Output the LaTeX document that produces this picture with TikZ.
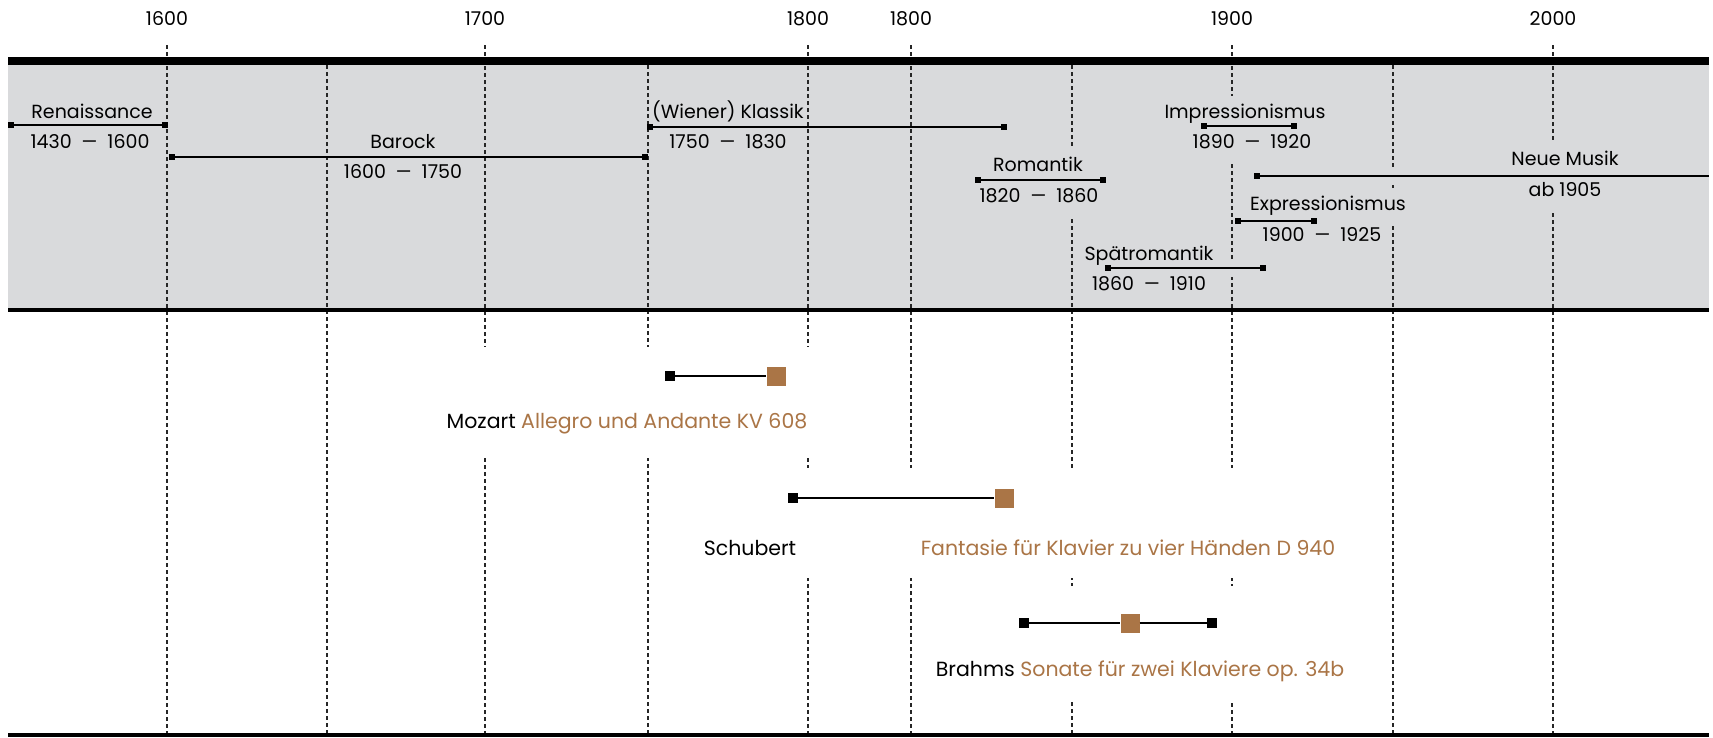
\documentclass[tikz,border=0pt]{standalone}
\usepackage{fontspec}
\setmainfont{Poppins}
\usetikzlibrary{positioning}
\definecolor{bandgray}{RGB}{217,218,220}
\definecolor{opus}{RGB}{170,117,70}
\newcommand{\eradates}[2]{#1\hspace{0.5em}\scalebox{1.3}[1]{--}\hspace{0.5em}#2}
\tikzset{
every node/.style={font=\fontsize{19}{22}\selectfont}, % one size for the band texts
yearlbl/.style={inner sep=0pt},
gridline/.style={dash pattern=on 4pt off 3pt, line width=1.1pt, black!85},
era/.style={fill=bandgray, inner xsep=1pt, inner ysep=9pt, text height=14pt, text depth=5pt},
eraline/.style={line width=1.3pt},
halo/.style={line width=17pt, bandgray},
endmark/.style={fill=black, minimum size=6pt, inner sep=0pt},
lifeline/.style={line width=2.4pt},
birth/.style={fill=black, minimum size=10pt, inner sep=0pt},
opusmark/.style={fill=opus, minimum size=19pt, inner sep=0pt},
piece/.style={inner sep=0pt, font=\fontsize{20.5}{24}\selectfont},
}

\begin{document}
\begin{tikzpicture}[x=1pt,y=-1pt]
        \useasboundingbox (0,0) rectangle (1713,737);
        % band and grid
        \fill[bandgray] (8,65) rectangle (1709,308);
        \foreach \x/\top in {167/45,327/65,485/45,648/65,808/45,911/45,1072/65,1232/45,1393/65,1553/45}
            \draw[gridline] (\x,\top) -- (\x,733);
        \draw[line width=8pt] (8,61) -- (1709,61);
        \draw[line width=4pt] (8,310) -- (1709,310);
        \draw[line width=4pt] (8,735) -- (1709,735);
        \foreach \x/\yr [count=\i] in {167/1600,485/1700,808/1800,911/1800,1232/1900,1553/2000}
            \node[yearlbl] (t_\i) at (\x,19) {\yr};
        % white boxes behind the works
        \fill[white] (432,347) rectangle (822,458);
        \fill[white] (690,468) rectangle (1354,578);
        \fill[white] (920,586) rectangle (1358,702);
        % ends of the eras
        \coordinate (ren_l) at (11,125);   \coordinate (ren_r) at (165,125);
        \coordinate (bar_l) at (172,157);  \coordinate (bar_r) at (645,157);
        \coordinate (kla_l) at (650,127);  \coordinate (kla_r) at (1004,127);
        \coordinate (rom_l) at (978,180);  \coordinate (rom_r) at (1103,180);
        \coordinate (spr_l) at (1108,268); \coordinate (spr_r) at (1263,268);
        \coordinate (imp_l) at (1204,126); \coordinate (imp_r) at (1294,126);
        \coordinate (exp_l) at (1238,221); \coordinate (exp_r) at (1314,221);
        \coordinate (neu_l) at (1257,176); \coordinate (neu_r) at (1709,176);
        \draw[halo] (spr_l) -- (spr_r);
        \draw[halo] (neu_l) -- (neu_r);
        % era texts
        \node[era] (ren_t) at (92,114) {Renaissance};
        \node[era] (ren_d) at (90,144) {\eradates{1430}{1600}};
        \node[era] (bar_t) at (403,144) {Barock};
        \node[era] (bar_d) at (403,174) {\eradates{1600}{1750}};
        \node[era,anchor=west] (kla_t) at (651,114) {(Wiener) Klassik};
        \node[era] (kla_d) at (728,144) {\eradates{1750}{1830}};
        \node[era] (rom_t) at (1038,167) {Romantik};
        \node[era] (rom_d) at (1039,198) {\eradates{1820}{1860}};
        \node[era] (spr_t) at (1149,256) {Spätromantik};
        \node[era] (spr_d) at (1149,286) {\eradates{1860}{1910}};
        \node[era] (imp_t) at (1245,114) {Impressionismus};
        \node[era] (imp_d) at (1252,144) {\eradates{1890}{1920}};
        \node[era] (exp_t) at (1328,206) {Expressionismus};
        \node[era] (exp_d) at (1322,237) {\eradates{1900}{1925}};
        \node[era] (neu_t) at (1565,161) {Neue Musik};
        \node[era] (neu_d) at (1565,192) {ab 1905};
        % era spans
        \foreach \e in {ren,bar,kla,rom,spr,imp,exp}{
            \node[endmark] (\e_a) at (\e_l) {};
            \node[endmark] (\e_b) at (\e_r) {};
            \draw[eraline] (\e_a) -- (\e_b);
        }
        \node[endmark] (neu_a) at (neu_l) {};
        \draw[eraline] (neu_a) -- (neu_r);
        % works
        \node[birth] (moz_a) at (670,376) {};
        \node[opusmark] (moz_w) at (776,376) {};
        \draw[lifeline] (moz_a) -- (moz_w);
        \node[piece] (moz_t) at (627,424) {Mozart \textcolor{opus}{Allegro und Andante KV 608}};
        \node[birth] (sch_a) at (793,498) {};
        \node[opusmark] (sch_w) at (1004,498) {};
        \draw[lifeline] (sch_a) -- (sch_w);
        \node[piece] (sch_t) at (750,548) {Schubert};
        \node[piece,text=opus] (sch_o) at (1128,548) {Fantasie für Klavier zu vier Händen D 940};
        \node[birth] (bra_a) at (1024,623) {};
        \node[opusmark] (bra_w) at (1130,623) {};
        \node[birth] (bra_b) at (1212,623) {};
        \draw[lifeline] (bra_a) -- (bra_w) -- (bra_b);
        \node[piece] (bra_t) at (1140,671) {Brahms \textcolor{opus}{Sonate für zwei Klaviere op. 34b}};
\end{tikzpicture}
\end{document}
